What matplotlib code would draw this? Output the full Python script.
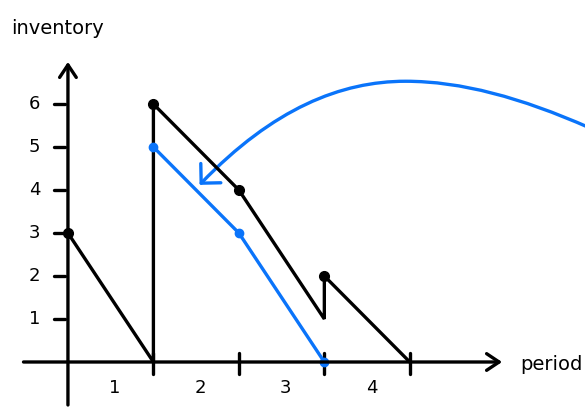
import matplotlib
matplotlib.use("Agg")
import matplotlib.pyplot as plt
from matplotlib.patches import FancyArrowPatch
from matplotlib.path import Path

# inventory levels over the periods
black_x = [0, 1, 1, 2, 3, 3, 4]
black_y = [3, 0, 6, 4, 1, 2, 0]
black_dot_x = [0, 1, 2, 3]
black_dot_y = [3, 6, 4, 2]
blue_x = [1, 2, 3]
blue_y = [5, 3, 0]

period_ticks = [1, 2, 3, 4]
period_labels = ["1", "2", "3", "4"]
inventory_ticks = [1, 2, 3, 4, 5, 6]

blue = "#0a74fa"
lw = 2.4

fig = plt.figure(figsize=(5.85, 4.08), dpi=100)
ax = fig.add_axes([0, 0, 1, 1])
ax.set_xlim(-0.795, 6.05)
ax.set_ylim(-1.07, 8.42)
ax.axis("off")

def arrow(start, end):
    ax.annotate("", xy=end, xytext=start,
                arrowprops=dict(arrowstyle="->,head_length=0.45,head_width=0.3",
                                lw=lw, color="black", shrinkA=0, shrinkB=0,
                                mutation_scale=20))

# axes
arrow((0, -1.0), (0, 6.98))
arrow((-0.52, 0), (5.08, 0))

for t in inventory_ticks:
    ax.plot([-0.16, -0.03], [t, t], color="black", lw=lw, solid_capstyle="round")
    ax.text(-0.39, t, str(t), fontsize=13, ha="center", va="center")
for t, lab in zip(period_ticks, period_labels):
    ax.plot([t, t], [0.2, -0.27], color="black", lw=lw, solid_capstyle="round")
    ax.text(t - 0.45, -0.6, lab, fontsize=13, ha="center", va="center")

ax.text(-0.12, 7.75, "inventory", fontsize=14, ha="center", va="center")
ax.text(5.66, -0.05, "period", fontsize=14, ha="center", va="center")

# series
ax.plot(black_x, black_y, color="black", lw=lw, solid_joinstyle="miter")
ax.plot(black_dot_x, black_dot_y, "o", color="black", ms=7)
ax.plot(blue_x, blue_y, color=blue, lw=lw)
ax.plot(blue_x, blue_y, "o", color=blue, ms=6)

# curved arrow pointing back to the blue line
verts = [(6.1, 5.45), (5.3, 6.15), (4.6, 6.53), (3.95, 6.53),
         (3.2, 6.53), (2.4, 5.9), (1.54, 4.12)]
codes = [Path.MOVETO] + [Path.CURVE4] * 6
ax.add_patch(FancyArrowPatch(path=Path(verts, codes),
                             arrowstyle="->,head_length=0.5,head_width=0.5",
                             mutation_scale=20, color=blue, lw=lw))

fig.savefig("out.png", dpi=100)
